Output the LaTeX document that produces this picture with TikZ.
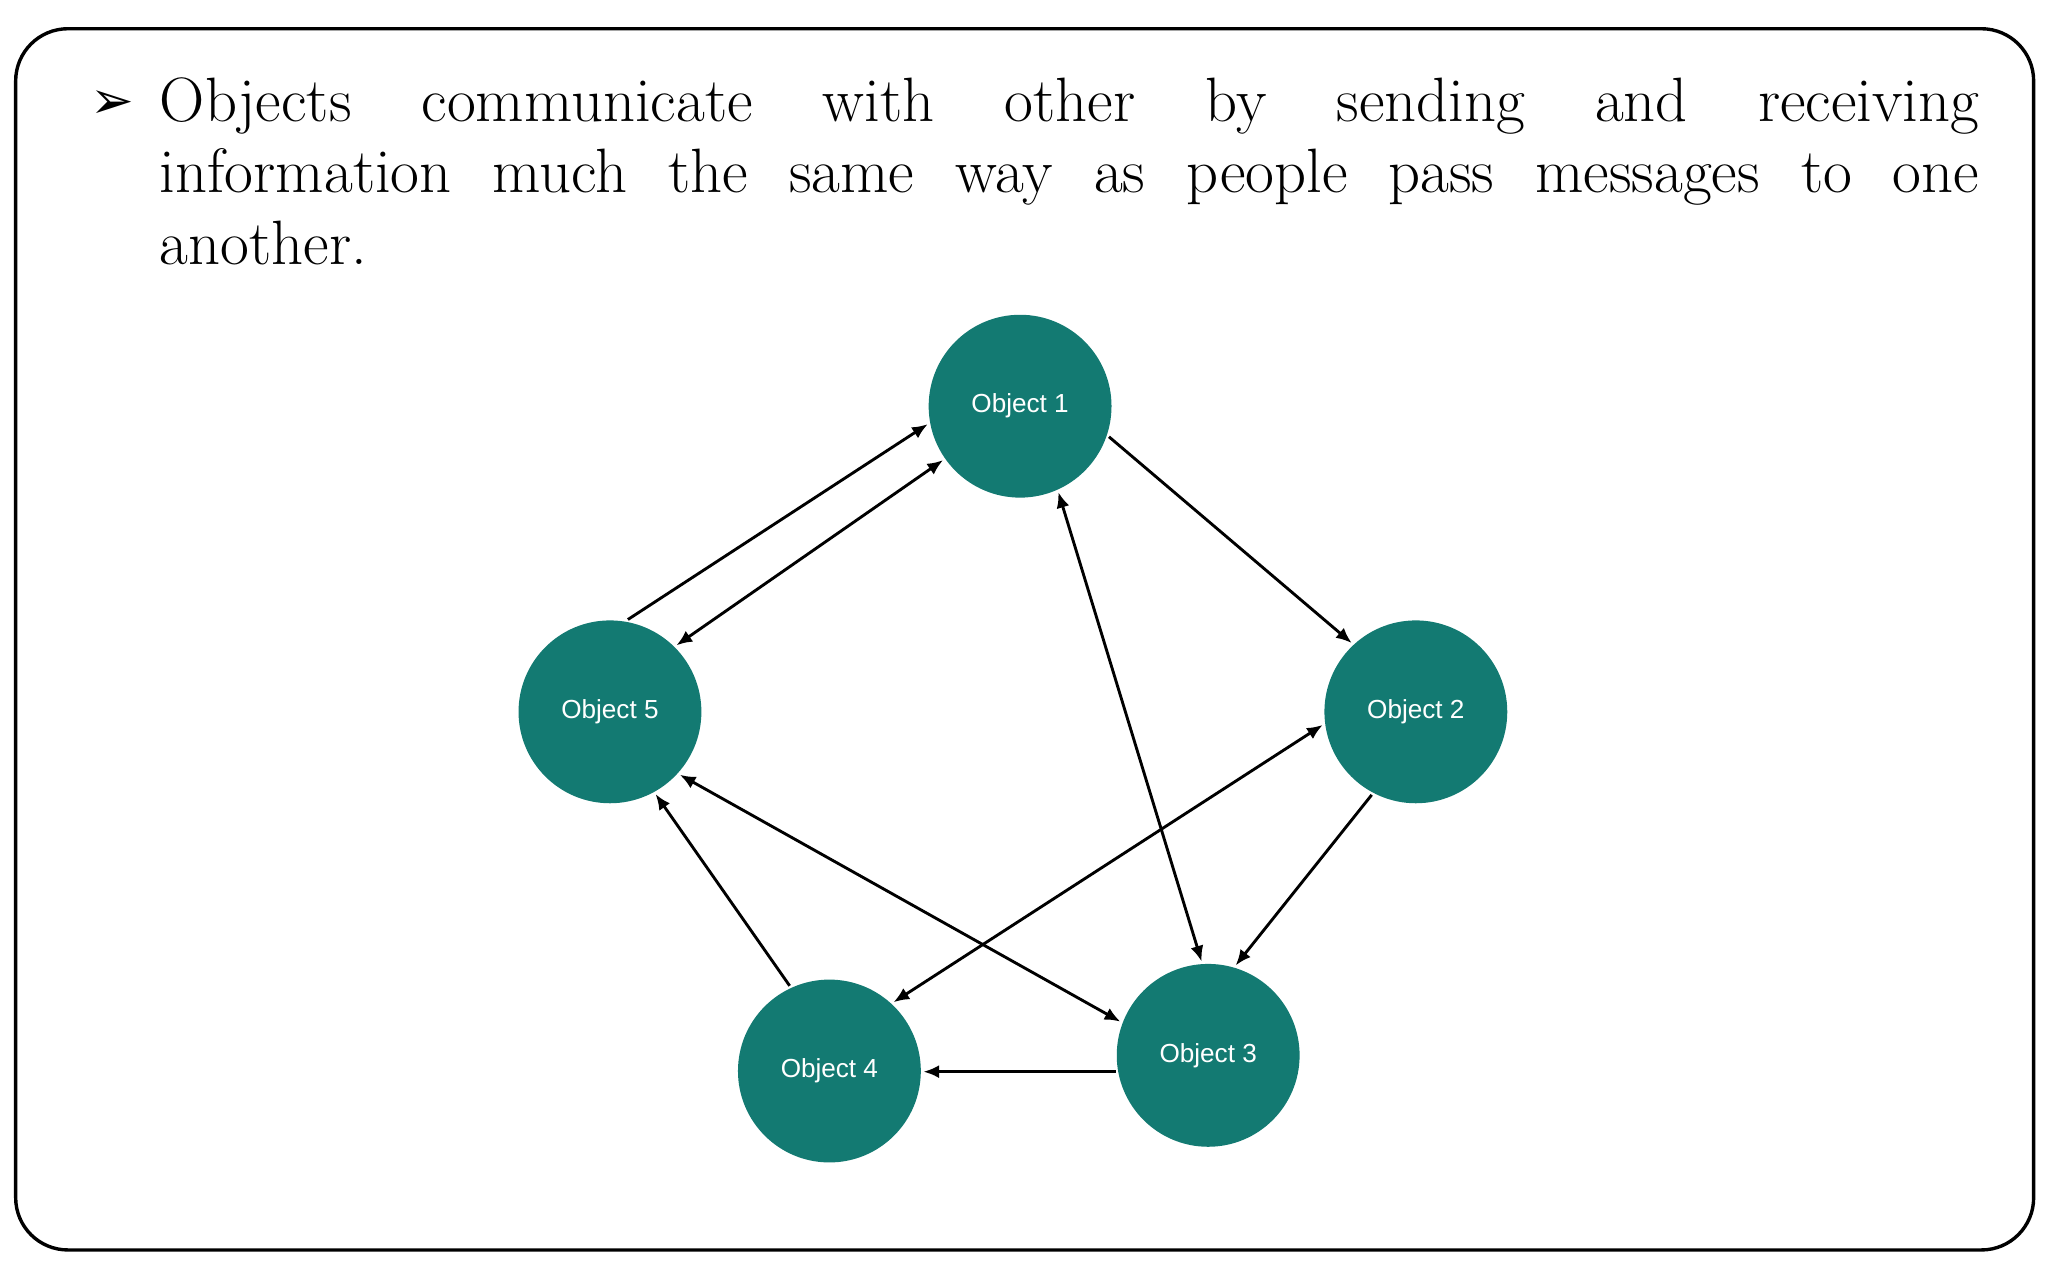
\documentclass[tikz,border=0pt]{standalone}
\usepackage{fontspec}
\newfontfamily\dejavu{DejaVu Sans}
\newfontfamily\labfont{Liberation Sans}
\usetikzlibrary{arrows.meta}
\definecolor{teal1}{HTML}{137A72}
\tikzset{
  obj/.style={circle,fill=teal1,minimum size=70pt,inner sep=0pt,outer sep=1pt,text=white,font=\labfont\fontsize{10}{12}\selectfont},
  conn/.style={line width=1.1pt,-{Latex[length=6pt,width=5pt]}},
  bconn/.style={line width=1.1pt,{Latex[length=6pt,width=5pt]}-{Latex[length=6pt,width=5pt]}}
}
\begin{document}
\begin{tikzpicture}[x=0.5pt,y=-0.5pt]
\useasboundingbox (0,0) rectangle (1568,972);
\draw[line width=1.3pt,rounded corners=20pt] (12,22) rectangle (1557,957);
\node[anchor=center,inner sep=0pt,font=\dejavu\fontsize{20}{24}\selectfont] (bul) at (86,80) {➢};
\node[anchor=north west,inner sep=0pt,text width=696.5pt,align=justify,font=\fontsize{24}{27.3}\selectfont] (txt) at (122,59)
{Objects communicate with other by sending and receiving\linebreak information much the same way as people pass messages to one\linebreak another.};
\node[obj] (o1) at (781,311) {Object 1};
\node[obj] (o2) at (1084,545) {Object 2};
\node[obj] (o5) at (467,545) {Object 5};
\node[obj] (o4) at (635,820) {Object 4};
\node[obj] (o3) at (925,808) {Object 3};
\draw[conn] (o5.79) -- (o1.191);
\draw[bconn] (o1.215) -- (o5.45);
\draw[conn] (o1.-19) -- (o2.133);
\draw[bconn] (o1.-66) -- (o3.94);
\draw[bconn] (o2.188) -- (o4.47);
\draw[bconn] (o5.-42) -- (o3.159);
\draw[conn] (o2.242) -- (o3.73);
\draw[conn] (o4.115) -- (o5.-61);
\draw[conn] (o3.190) -- (o3.190 -| o4.east);
\end{tikzpicture}
\end{document}
